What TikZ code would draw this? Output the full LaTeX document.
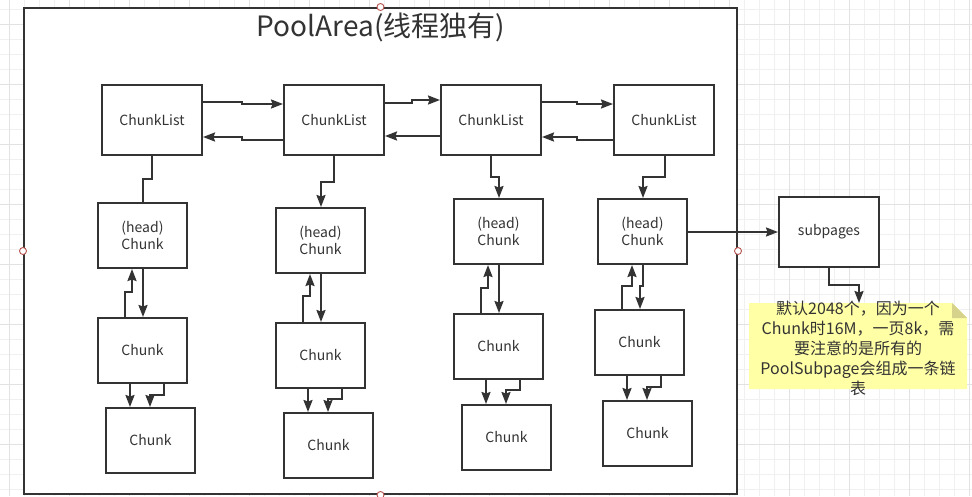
\documentclass[tikz,border=0pt]{standalone}
\usepackage{fontspec}
\setmainfont{Noto Sans CJK SC}
\usetikzlibrary{arrows.meta}
\definecolor{linec}{HTML}{333333}
\definecolor{textc}{HTML}{333333}
\definecolor{gridminor}{HTML}{F0F0F0}
\definecolor{gridmajor}{HTML}{E2E2E2}
\definecolor{notefill}{HTML}{FFFFA6}
\definecolor{notefold}{HTML}{D6D28C}
\definecolor{handle}{HTML}{B85450}
\tikzset{
  box/.style={draw=linec, line width=2pt, fill=white, text=textc, inner sep=0pt,
    align=center, font=\fontsize{14}{17}\selectfont},
  listbox/.style={box, minimum width=100pt, minimum height=70pt},
  chunkbox/.style={box, minimum width=89pt, minimum height=65pt},
  conn/.style={draw=linec, line width=2pt, -{Stealth[length=12pt,width=9pt,inset=1.5pt]}},
  plainconn/.style={draw=linec, line width=2pt},
  handlemark/.style={draw=handle, fill=white, line width=0.9pt},
}
\begin{document}
\begin{tikzpicture}[x=1pt,y=-1pt]
\useasboundingbox (0,0) rectangle (972,496);
\fill[white] (0,0) rectangle (972,496);
% grid
\foreach \k in {0,...,64} \draw[gridminor, line width=0.9pt] ({9.3+15*\k},0) -- ({9.3+15*\k},496);
\foreach \k in {0,...,32} \draw[gridminor, line width=0.9pt] (0,{9.3+15*\k}) -- (972,{9.3+15*\k});
\foreach \k in {0,...,16} \draw[gridmajor, line width=0.9pt] ({9.3+60*\k},0) -- ({9.3+60*\k},496);
\foreach \k in {0,...,8} \draw[gridmajor, line width=0.9pt] (0,{24.3+60*\k}) -- (972,{24.3+60*\k});

% PoolArea container
\node[draw=linec, line width=2pt, fill=white, minimum width=713pt, minimum height=486pt, inner sep=0pt] (area) at (380.5,251) {};
\node[text=textc, font=\fontsize{28}{32}\selectfont, inner sep=0pt] (title) at (381,27) {PoolArea(线程独有)};

% chunk lists
\node[listbox] (CL1) at (152,120) {ChunkList};
\node[listbox] (CL2) at (334,120) {ChunkList};
\node[listbox] (CL3) at (491,120) {ChunkList};
\node[listbox] (CL4) at (664,120) {ChunkList};

% chunks
\node[chunkbox] (H1) at (142.5,235.5) {(head)\\Chunk};
\node[chunkbox] (C1a) at (142.5,350.5) {Chunk};
\node[chunkbox] (C1b) at (150.5,440.5) {Chunk};
\node[chunkbox] (H2) at (320.5,240.5) {(head)\\Chunk};
\node[chunkbox] (C2a) at (320.5,355.5) {Chunk};
\node[chunkbox] (C2b) at (328.5,445.5) {Chunk};
\node[chunkbox] (H3) at (498.5,231.5) {(head)\\Chunk};
\node[chunkbox] (C3a) at (498.5,346.5) {Chunk};
\node[chunkbox] (C3b) at (506.5,437.5) {Chunk};
\node[chunkbox] (H4) at (642.5,231.5) {(head)\\Chunk};
\node[chunkbox] (C4a) at (639.5,342.5) {Chunk};
\node[chunkbox] (C4b) at (647.5,433.5) {Chunk};

\node[listbox] (sub) at (829,232) {subpages};

% note
\fill[notefill] (749,303) -- (952,303) -- (967,318) -- (967,389) -- (749,389) -- cycle;
\fill[notefold] (952,303) -- (952,318) -- (967,318) -- cycle;
\node[text=textc, align=center, inner sep=0pt, font=\fontsize{16}{20}\selectfont] (note) at (858,348)
  {默认2048个，因为一个\\Chunk时16M，一页8k，需\\要注意的是所有的\\PoolSubpage会组成一条链\\表};
\coordinate (notetop) at (859,303);

% list connectors
\draw[conn] (CL1.east |- 0,102) -- (242,102) -- (242,104) -- (CL2.west |- 0,104);
\draw[conn] (CL2.west |- 0,140) -- (242,140) -- (242,137) -- (CL1.east |- 0,137);
\draw[conn] (CL2.east |- 0,103) -- (412,103) -- (412,100) -- (CL3.west |- 0,100);
\draw[conn] (CL3.west |- 0,136) -- (CL2.east |- 0,136);
\draw[conn] (CL3.east |- 0,102) -- (577,102) -- (577,104) -- (CL4.west |- 0,104);
\draw[conn] (CL4.west |- 0,140) -- (577,140) -- (577,137) -- (CL3.east |- 0,137);

% column 1
\draw[plainconn] (CL1.south) -- (152,179) -- (143,179) -- (H1.north -| 143,0);
\draw[conn] (C1a.north -| 125,0) -- (125,292) -- (132,292) -- (H1.south -| 132,0);
\draw[conn] (H1.south -| 143,0) -- (C1a.north -| 143,0);
\draw[conn] (C1a.south -| 130,0) -- (C1b.north -| 130,0);
\draw[conn] (C1a.south -| 164,0) -- (164,395) -- (150,395) -- (C1b.north -| 150,0);

% column 2
\draw[conn] (CL2.south) -- (334,182) -- (321,182) -- (H2.north -| 321,0);
\draw[conn] (C2a.north -| 303,0) -- (303,296) -- (310,296) -- (H2.south -| 310,0);
\draw[conn] (H2.south -| 321,0) -- (C2a.north -| 321,0);
\draw[conn] (C2a.south -| 308,0) -- (C2b.north -| 308,0);
\draw[conn] (C2a.south -| 342,0) -- (342,399) -- (328,399) -- (C2b.north -| 328,0);

% column 3
\draw[conn] (CL3.south) -- (491,177) -- (499,177) -- (H3.north -| 499,0);
\draw[conn] (C3a.north -| 481,0) -- (481,288) -- (488,288) -- (H3.south -| 488,0);
\draw[conn] (H3.south -| 499,0) -- (C3a.north -| 499,0);
\draw[conn] (C3a.south -| 486,0) -- (C3b.north -| 486,0);
\draw[conn] (C3a.south -| 520,0) -- (520,390) -- (506,390) -- (C3b.north -| 506,0);

% column 4
\draw[conn] (CL4.south -| 665,0) -- (665,177) -- (643,177) -- (H4.north -| 643,0);
\draw[conn] (C4a.north -| 622,0) -- (622,286) -- (632,286) -- (H4.south -| 632,0);
\draw[conn] (H4.south -| 643,0) -- (643,286) -- (640,286) -- (C4a.north -| 640,0);
\draw[conn] (C4a.south -| 627,0) -- (C4b.north -| 627,0);
\draw[conn] (C4a.south -| 661,0) -- (661,387) -- (647,387) -- (C4b.north -| 647,0);

% subpages
\draw[conn] (H4.east |- 0,232) -- (sub.west |- 0,232);
\draw[conn] (sub.south) -- (829,285) -- (859,285) -- (notetop);

% selection handles
\draw[handlemark] (area.north) circle (3.5);
\draw[handlemark] (area.south) circle (3.5);
\draw[handlemark] (area.west) circle (3.5);
\draw[handlemark] (area.east) circle (3.5);
\end{tikzpicture}
\end{document}
